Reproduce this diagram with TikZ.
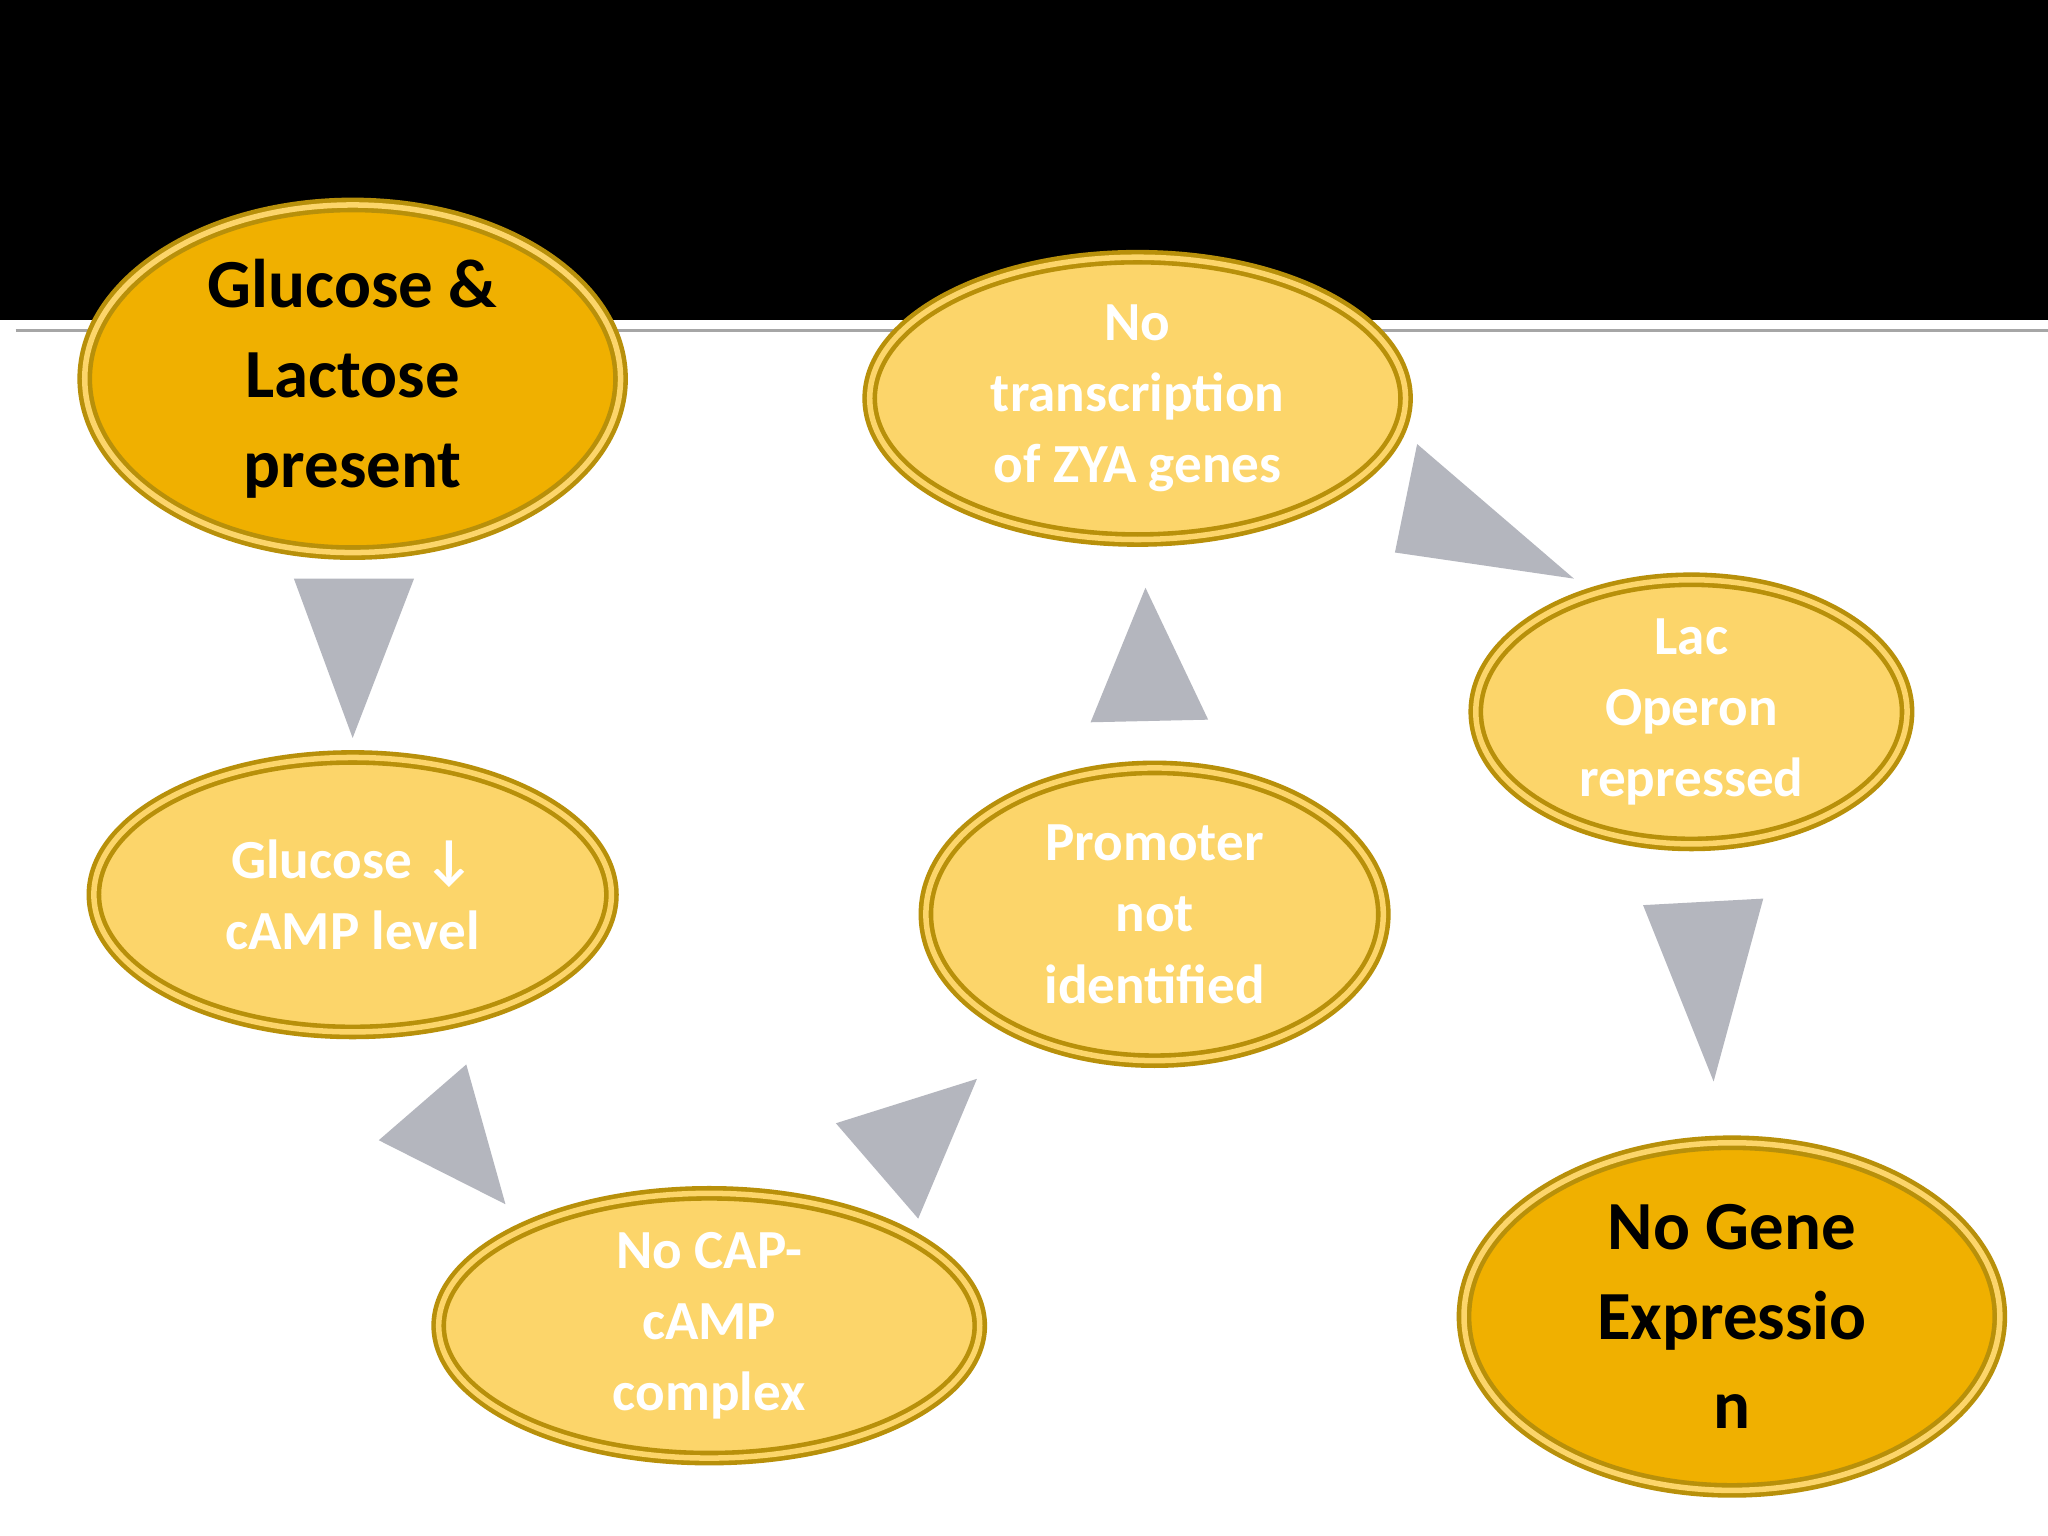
\documentclass[tikz,border=0pt]{standalone}
\usepackage{fontspec}
\setmainfont{Carlito}
\usetikzlibrary{shapes.geometric}
\definecolor{darkgold}{HTML}{F0B000}
\definecolor{lightgold}{HTML}{FCD56A}
\definecolor{rimgold}{HTML}{B8900A}
\definecolor{tri}{HTML}{B4B6BE}
\tikzset{
 ell/.style={ellipse,draw=rimgold,double=lightgold,double distance=1.2pt,line width=1pt,inner sep=0pt,align=center,font=\bfseries},
 big/.style={ell,fill=darkgold,text=black,font=\fontsize{15}{19.5}\selectfont\bfseries},
 small/.style={ell,fill=lightgold,text=white,font=\fontsize{12}{15.5}\selectfont\bfseries},
 arr/.style={fill=tri,draw=none}
}
\begin{document}
\begin{tikzpicture}[x=0.01cm,y=-0.01cm]
\useasboundingbox (0,0) rectangle (1568,1176);
\fill[white] (0,0) rectangle (1568,1176);
\fill[black] (0,0) rectangle (1568,245);
\draw[gray!70,line width=0.8pt] (12,253) -- (1568,253);
\node[big,minimum width=410\pgflinewidth*0+4.1cm,minimum height=2.66cm] (a) at (270,290) {Glucose \&\\Lactose\\present};
\node[small,minimum width=3.96cm,minimum height=2.1cm] (b) at (270,685) {Glucose ↓\\cAMP level};
\node[small,minimum width=4.14cm,minimum height=1.8cm] (c) at (543,1015) {No CAP-\\cAMP\\complex};
\node[small,minimum width=3.5cm,minimum height=2.24cm] (d) at (884,700) {Promoter\\not\\identified};
\node[small,minimum width=4.1cm,minimum height=2.16cm] (e) at (871,305) {No\\transcription\\of ZYA genes};
\node[small,minimum width=3.3cm,minimum height=1.8cm] (f) at (1295,545) {Lac\\Operon\\repressed};
\node[big,minimum width=4.1cm,minimum height=2.66cm] (g) at (1326,1008) {No Gene\\Expressio\\n};
\fill[arr] (225,443) -- (317,443) -- (270,565) -- cycle;
\fill[arr] (290,873) -- (357,815) -- (387,922) -- cycle;
\fill[arr] (640,860) -- (748,826) -- (703,933) -- cycle;
\fill[arr] (835,553) -- (925,551) -- (877,450) -- cycle;
\fill[arr] (1085,340) -- (1205,443) -- (1068,423) -- cycle;
\fill[arr] (1258,693) -- (1350,688) -- (1312,828) -- cycle;
\end{tikzpicture}
\end{document}
